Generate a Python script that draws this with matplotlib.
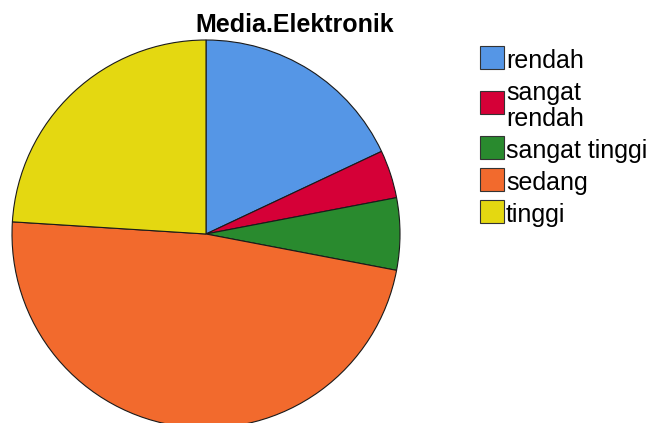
import matplotlib
matplotlib.use("Agg")
import matplotlib.pyplot as plt
from matplotlib.patches import Rectangle

plt.rcParams['font.family'] = ['Liberation Sans', 'DejaVu Sans']

categories = ["rendah", "sangat\nrendah", "sangat tinggi", "sedang", "tinggi"]
counts = [9, 2, 3, 24, 12]
colors = ["#5596E6", "#D50037", "#298A2E", "#F26A2D", "#E4D811"]

fig = plt.figure(figsize=(6.55, 4.23), dpi=100)
W, H = 655, 423
cx, cy, r = 206, 234, 194
ax = fig.add_axes([(cx - r) / W, (H - cy - r) / H, 2 * r / W, 2 * r / H])
wedges, _ = ax.pie(counts, colors=colors, startangle=90, counterclock=False,
                   wedgeprops=dict(edgecolor="#1a1a1a", linewidth=0.8))
ax.set_xlim(-1, 1)
ax.set_ylim(-1, 1)
ax.set_aspect('auto')
ax.axis('off')

fig.text(295 / W, 1 - 32 / H, "Media.Elektronik", ha='center', va='baseline',
         fontsize=18, fontweight='bold')

# legend drawn manually (SPSS style: patch aligned to the label block)
px0, pw, ph = 480, 24, 23
tx = 506
baseline = 68
for c, lab in zip(colors, categories):
    lines = lab.split("\n")
    bls = [baseline + 26 * k for k in range(len(lines))]
    for bl, line in zip(bls, lines):
        fig.text(tx / W, 1 - bl / H, line, ha='left', va='baseline', fontsize=18)
    pbottom = sum(bls) / len(bls) + 1
    fig.patches.append(Rectangle((px0 / W, 1 - pbottom / H), pw / W, ph / H,
                                 transform=fig.transFigure, facecolor=c,
                                 edgecolor="#333333", linewidth=0.8))
    baseline = bls[-1] + 32

fig.savefig("out.png", dpi=100)
